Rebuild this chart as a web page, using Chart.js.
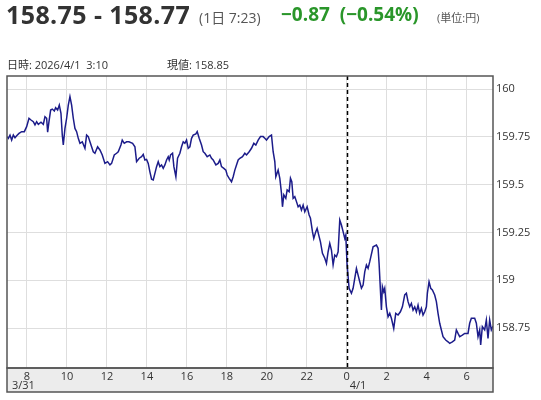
<!DOCTYPE html>
<html>
<head>
<meta charset="utf-8">
<script src="https://cdn.jsdelivr.net/npm/chart.js@4.4.1/dist/chart.umd.min.js"></script>
<style>
  body { margin: 0; background: #fff; font-family: "Open Sans", "Noto Sans CJK JP", sans-serif; }
  #wrap { position: relative; width: 541px; height: 400px; overflow: hidden; }
  #chart { position: absolute; left: 0; top: 0; }
  .t { position: absolute; white-space: pre; }
  #price { left: 6px; top: -3px; font-size: 25px; letter-spacing: 0.4px; font-weight: bold; color: #333; }
  #span { left: 199px; top: 7px; font-size: 14px; color: #555; }
  #chg { left: 281px; top: 1px; font-size: 19px; font-weight: bold; color: #2a962a; }
  #unit { left: 437px; top: 9px; font-size: 11px; color: #555; }
  #stamp { left: 7px; top: 56px; font-size: 11px; color: #333; }
  #now { left: 167px; top: 56px; font-size: 11px; color: #333; }
</style>
</head>
<body>
<div id="wrap">
  <canvas id="chart" width="541" height="400"></canvas>
  <div class="t" id="price">158.75 - 158.77</div>
  <div class="t" id="span">(1日 7:23)</div>
  <div class="t" id="chg">−0.87  (−0.54%)</div>
  <div class="t" id="unit">(単位:円)</div>
  <div class="t" id="stamp">日時: 2026/4/1  3:10</div>
  <div class="t" id="now">現値: 158.85</div>
</div>
<script>
// minutes since 3/31 07:00
const minutes = [
  0, 4, 9, 14, 19, 24, 29, 36, 44, 52, 59, 66, 72, 79, 84, 89, 94, 102, 109, 114,
  119, 122, 126, 131, 136, 142, 146, 152, 157, 162, 166, 169, 174, 179, 184, 189, 194, 199, 204, 209,
  214, 219, 226, 234, 239, 244, 249, 254, 259, 264, 272, 279, 286, 294, 302, 309, 314, 322, 329, 334,
  342, 346, 352, 359, 366, 377, 384, 389, 397, 404, 409, 414, 419, 424, 429, 434, 439, 444, 449, 454,
  459, 464, 469, 474, 479, 484, 487, 491, 497, 501, 507, 512, 519, 524, 529, 534, 539, 544, 549, 554,
  559, 567, 571, 577, 584, 589, 594, 601, 609, 614, 619, 627, 634, 639, 644, 651, 657, 661, 667, 674,
  679, 684, 689, 694, 699, 707, 714, 719, 727, 734, 741, 747, 754, 761, 769, 774, 779, 787, 794, 799,
  804, 807, 814, 819, 824, 827, 831, 837, 841, 847, 851, 855, 859, 864, 869, 874, 879, 884, 889, 894,
  901, 907, 911, 917, 921, 927, 931, 937, 941, 947, 954, 959, 964, 969, 974, 979, 984, 989, 994, 999,
  1004, 1009, 1014, 1017, 1021, 1027, 1034, 1039, 1044, 1049, 1054, 1059, 1064, 1069, 1074, 1079, 1084, 1089, 1099, 1109,
  1114, 1117, 1121, 1124, 1127, 1131, 1134, 1139, 1144, 1149, 1154, 1161, 1167, 1174, 1181, 1187, 1194, 1199, 1204, 1209,
  1214, 1219, 1224, 1229, 1234, 1239, 1244, 1249, 1254, 1259, 1262, 1267, 1272, 1277, 1284, 1289, 1294, 1299, 1304, 1309,
  1317, 1324, 1329, 1337, 1344, 1349, 1354, 1359, 1367, 1374, 1384, 1389, 1394, 1404, 1409, 1414, 1419, 1422, 1427, 1434,
  1439, 1444, 1449, 1454, 1459
];
const prices = [
  159.751, 159.742, 159.759, 159.733, 159.759, 159.745, 159.756, 159.768, 159.777, 159.777, 159.803, 159.847, 159.838, 159.829, 159.812, 159.829, 159.815, 159.826, 159.815, 159.855,
  159.847, 159.774, 159.829, 159.890, 159.895, 159.885, 159.902, 159.890, 159.916, 159.873, 159.759, 159.707, 159.794, 159.847, 159.916, 159.960, 159.916, 159.847, 159.794, 159.777,
  159.742, 159.716, 159.724, 159.690, 159.759, 159.751, 159.724, 159.698, 159.672, 159.664, 159.698, 159.681, 159.655, 159.611, 159.620, 159.603, 159.611, 159.655, 159.664, 159.672,
  159.707, 159.733, 159.716, 159.724, 159.724, 159.716, 159.698, 159.620, 159.638, 159.646, 159.658, 159.629, 159.632, 159.611, 159.567, 159.528, 159.524, 159.559, 159.594, 159.620,
  159.594, 159.603, 159.585, 159.603, 159.629, 159.646, 159.629, 159.655, 159.664, 159.594, 159.541, 159.638, 159.664, 159.698, 159.724, 159.716, 159.733, 159.690, 159.698, 159.742,
  159.759, 159.765, 159.777, 159.742, 159.707, 159.672, 159.664, 159.646, 159.655, 159.638, 159.629, 159.603, 159.611, 159.629, 159.594, 159.585, 159.576, 159.550, 159.533, 159.515,
  159.541, 159.576, 159.603, 159.629, 159.638, 159.646, 159.664, 159.655, 159.672, 159.690, 159.716, 159.707, 159.733, 159.751, 159.751, 159.742, 159.733, 159.751, 159.759, 159.672,
  159.620, 159.541, 159.576, 159.533, 159.455, 159.384, 159.446, 159.428, 159.472, 159.463, 159.533, 159.515, 159.428, 159.437, 159.411, 159.384, 159.393, 159.367, 159.393, 159.358,
  159.384, 159.341, 159.324, 159.254, 159.219, 159.254, 159.271, 159.228, 159.201, 159.141, 159.115, 159.088, 159.149, 159.193, 159.158, 159.080, 159.132, 159.123, 159.149, 159.315,
  159.289, 159.254, 159.219, 159.236, 159.080, 158.958, 158.932, 158.958, 159.010, 159.062, 159.027, 158.992, 158.958, 158.975, 159.044, 159.080, 159.062, 159.097, 159.175, 159.184,
  159.167, 159.088, 158.949, 158.844, 158.966, 158.940, 158.958, 158.861, 158.809, 158.827, 158.801, 158.748, 158.827, 158.818, 158.835, 158.861, 158.923, 158.932, 158.888, 158.861,
  158.879, 158.844, 158.861, 158.835, 158.870, 158.827, 158.853, 158.818, 158.835, 158.861, 158.932, 158.992, 158.958, 158.949, 158.923, 158.888, 158.827, 158.775, 158.740, 158.705,
  158.687, 158.678, 158.670, 158.678, 158.687, 158.740, 158.722, 158.705, 158.713, 158.722, 158.722, 158.775, 158.801, 158.801, 158.775, 158.705, 158.740, 158.661, 158.757, 158.740,
  158.792, 158.696, 158.792, 158.740, 158.760
];
// even-hour grid, minutes since 07:00
const hourTicks = [60, 180, 300, 420, 540, 660, 780, 900, 1020, 1140, 1260, 1380];
const priceTicks = [158.75, 159, 159.25, 159.5, 159.75, 160];
const dateLabels = [
  { at: 0, text: '3/31', dx: 5 },
  { at: 1020, text: '4/1', dx: 3 }
];
const midnight = 1020;

const points = minutes.map((m, i) => ({ x: m, y: prices[i] }));

const axisBand = {
  id: 'axisBand',
  beforeDraw(chart) {
    const { ctx, chartArea } = chart;
    ctx.save();
    ctx.fillStyle = '#ececec';
    ctx.fillRect(chartArea.left, chartArea.bottom, chartArea.right - chartArea.left, 24);
    ctx.restore();
  },
  afterDraw(chart) {
    const { ctx, chartArea } = chart;
    const xs = chart.scales.x;
    ctx.save();
    // midnight divider
    const mx = Math.round(xs.getPixelForValue(midnight)) + 0.5;
    ctx.strokeStyle = '#000';
    ctx.lineWidth = 1.5;
    ctx.setLineDash([4, 3]);
    ctx.beginPath();
    ctx.moveTo(mx, chartArea.top);
    ctx.lineTo(mx, chartArea.bottom);
    ctx.stroke();
    ctx.setLineDash([]);
    // frame
    ctx.strokeStyle = '#555';
    ctx.lineWidth = 1.5;
    ctx.strokeRect(chartArea.left, chartArea.top, chartArea.right - chartArea.left, chartArea.bottom - chartArea.top);
    ctx.strokeRect(chartArea.left, chartArea.bottom, chartArea.right - chartArea.left, 24);
    // date labels
    ctx.fillStyle = '#333';
    ctx.font = '11px "Open Sans", sans-serif';
    ctx.textAlign = 'left';
    ctx.textBaseline = 'middle';
    dateLabels.forEach((d) => {
      ctx.fillText(d.text, xs.getPixelForValue(d.at) + d.dx, chartArea.bottom + 18);
    });
    ctx.restore();
  }
};

new Chart(document.getElementById('chart'), {
  type: 'line',
  data: {
    datasets: [{
      data: points,
      borderColor: '#1c1c8a',
      borderWidth: 1.5,
      pointRadius: 0,
      tension: 0
    }]
  },
  options: {
    responsive: false,
    animation: false,
    layout: { padding: { left: 7, top: 76, right: 0, bottom: 8 } },
    plugins: { legend: { display: false }, tooltip: { enabled: false } },
    scales: {
      x: {
        type: 'linear',
        min: 0,
        max: 1459,
        afterBuildTicks: (s) => { s.ticks = hourTicks.map((v) => ({ value: v })); },
        afterFit: (s) => { s.height = 24; },
        border: { display: false },
        grid: { color: '#dedede', lineWidth: 1, drawTicks: false },
        ticks: {
          padding: 2,
          color: '#333',
          font: { family: 'Open Sans', size: 11 },
          maxRotation: 0,
          autoSkip: false,
          callback: (v) => String((7 + v / 60) % 24)
        }
      },
      y: {
        position: 'right',
        min: 158.541,
        max: 160.068,
        afterBuildTicks: (s) => { s.ticks = priceTicks.map((v) => ({ value: v })); },
        afterFit: (s) => { s.width = 48; },
        border: { display: false },
        grid: { color: '#dedede', lineWidth: 1, drawTicks: false },
        ticks: {
          padding: 3,
          color: '#333',
          font: { family: 'Open Sans', size: 11 },
          callback: (v) => String(v)
        }
      }
    }
  },
  plugins: [axisBand]
});
</script>
</body>
</html>
